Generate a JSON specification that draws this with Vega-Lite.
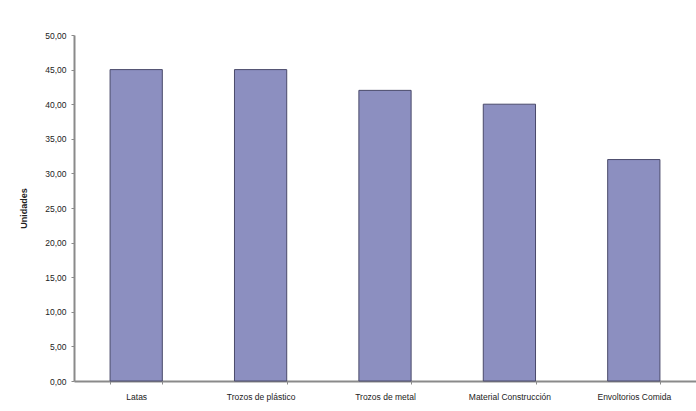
{
  "$schema": "https://vega.github.io/schema/vega-lite/v6.json",
  "width": 622,
  "height": 346,
  "autosize": {"type": "none"},
  "padding": {"left": 74, "top": 35, "right": 0, "bottom": 30},
  "background": "#ffffff",
  "data": {"values": [
    {"categoria": "Latas", "unidades": 45},
    {"categoria": "Trozos de plástico", "unidades": 45},
    {"categoria": "Trozos de metal", "unidades": 42},
    {"categoria": "Material Construcción", "unidades": 40},
    {"categoria": "Envoltorios Comida", "unidades": 32}
  ]},
  "mark": {"type": "bar", "color": "#8c8fc0", "stroke": "#4a4a6a", "strokeWidth": 1},
  "encoding": {
    "x": {
      "field": "categoria", "type": "nominal", "sort": null,
      "scale": {"paddingInner": 0.58, "paddingOuter": 0.29},
      "axis": {"title": null, "labelAngle": 0, "tickBand": "extent", "tickSize": 3, "labelPadding": 8}
    },
    "y": {
      "field": "unidades", "type": "quantitative",
      "scale": {"domain": [0, 50], "nice": false},
      "axis": {
        "title": "Unidades", "values": [0,5,10,15,20,25,30,35,40,45,50],
        "labelExpr": "replace(format(datum.value, '.2f'), '.', ',')",
        "tickSize": 3, "labelPadding": 5, "titlePadding": 16,
        "titleFontWeight": "bold", "titleFontSize": 9
      }
    }
  },
  "config": {
    "view": {"stroke": null},
    "font": "Liberation Sans",
    "axis": {
      "grid": false, "domainColor": "#8a8a8a", "domainWidth": 2, "tickColor": "#8a8a8a",
      "labelFont": "Liberation Sans", "labelFontSize": 8.5, "labelColor": "#222222",
      "titleFont": "Liberation Sans", "titleColor": "#222222"
    }
  }
}
